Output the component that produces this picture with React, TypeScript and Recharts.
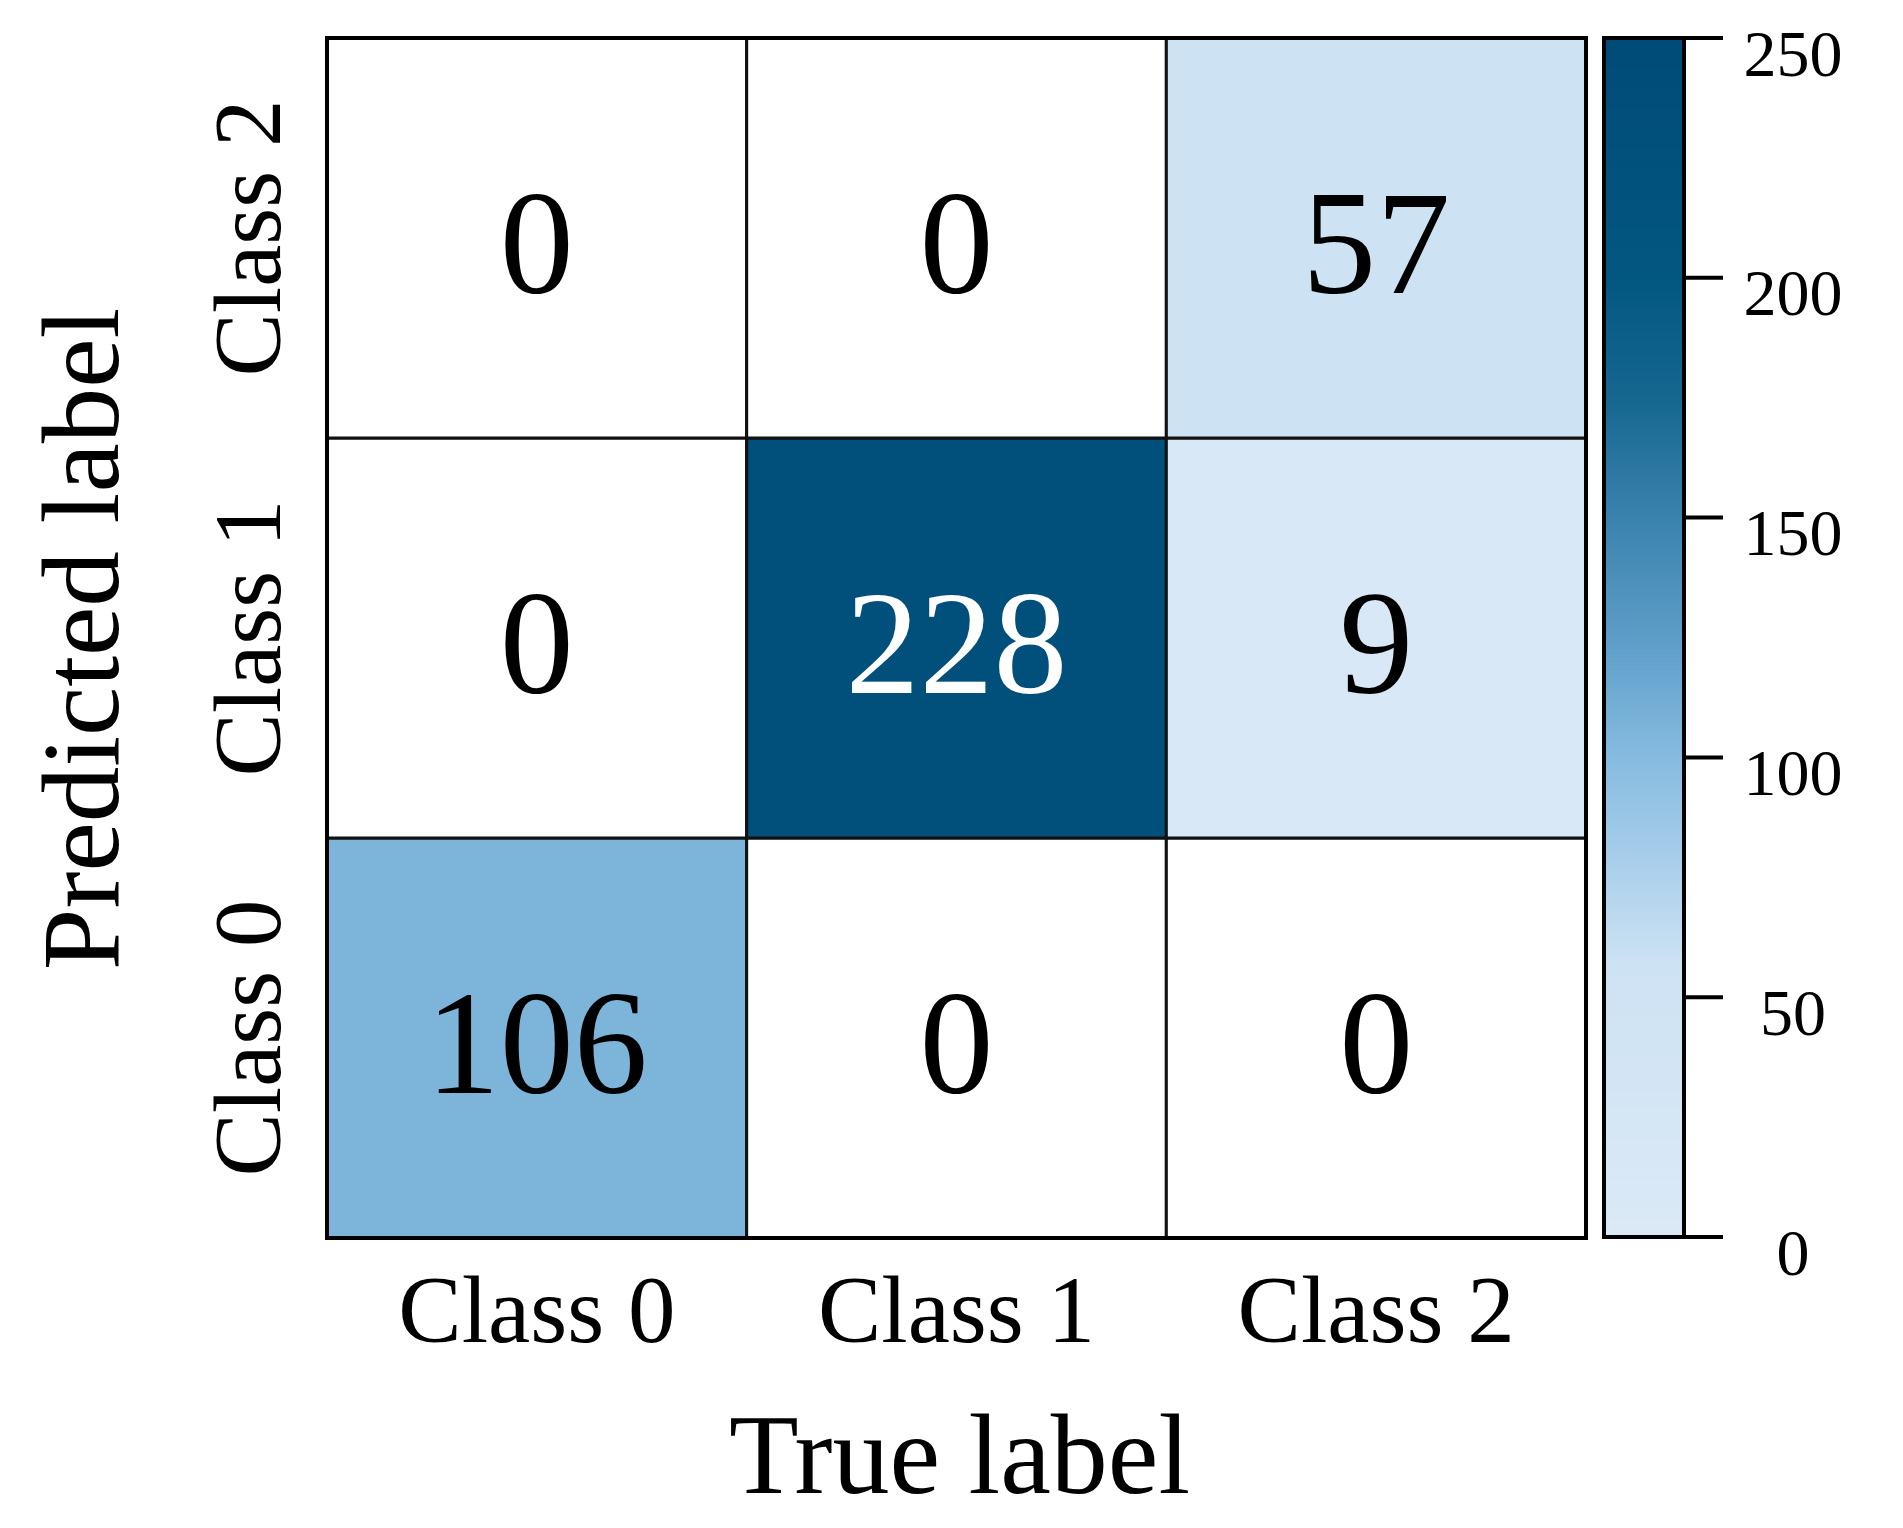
import { ComposedChart, Label, Line, ReferenceArea, Scatter, ScatterChart, XAxis, YAxis } from 'recharts'

// confusion matrix, rows = predicted label, columns = true label
const trueLabels = ['Class 0', 'Class 1', 'Class 2']
const predLabels = ['Class 0', 'Class 1', 'Class 2']
const predClass0 = [106, 0, 0]
const predClass1 = [0, 228, 9]
const predClass2 = [0, 0, 57]
const colorbarTicks = [0, 50, 100, 150, 200, 250]
const colorbarMax = 250

const rows = [predClass0, predClass1, predClass2]

// colormap stops (value -> colour)
const cmap: [number, string][] = [
  [0, '#dbe9f6'],
  [57, '#cde2f3'],
  [80, '#a6cdea'],
  [100, '#86bbe0'],
  [125, '#5c9dc7'],
  [150, '#3a82ae'],
  [175, '#156790'],
  [200, '#025780'],
  [250, '#004b77'],
]

const FONT = '"Liberation Serif", "Times New Roman", serif'

function hexToRgb(h: string) {
  const n = parseInt(h.slice(1), 16)
  return [(n >> 16) & 255, (n >> 8) & 255, n & 255]
}

function colorFor(v: number) {
  for (let i = 1; i < cmap.length; i++) {
    const [v0, c0] = cmap[i - 1]
    const [v1, c1] = cmap[i]
    if (v <= v1) {
      const t = (v - v0) / (v1 - v0)
      const a = hexToRgb(c0)
      const b = hexToRgb(c1)
      const m = a.map((x, k) => Math.round(x + (b[k] - x) * t))
      return `rgb(${m[0]},${m[1]},${m[2]})`
    }
  }
  return cmap[cmap.length - 1][1]
}

const cells = rows.flatMap((r, row) => r.map((value, col) => ({ x: col + 0.5, y: row + 0.5, col, row, value })))

const XTick = (props: any) => {
  const { x, y, payload } = props
  return (
    <text x={x} y={y + 104} textAnchor="middle" fontSize={95} fontFamily={FONT} fill="#000">
      {trueLabels[Math.floor(payload.value)]}
    </text>
  )
}

const YTick = (props: any) => {
  const { x, y, payload } = props
  const bx = x - 47
  return (
    <text x={bx} y={y} textAnchor="middle" fontSize={95} fontFamily={FONT} fill="#000" transform={`rotate(-90, ${bx}, ${y})`}>
      {predLabels[Math.floor(payload.value)]}
    </text>
  )
}

const CbTick = (props: any) => {
  const { x, y, payload } = props
  return (
    <text x={x + 70} y={y + 15} textAnchor="middle" dominantBaseline="central" fontSize={66} fontFamily={FONT} fill="#000">
      {payload.value}
    </text>
  )
}

const ValueText = (props: any) => {
  const { cx, cy, payload } = props
  return (
    <text x={cx} y={cy + 5} textAnchor="middle" dominantBaseline="central" fontSize={148} fontFamily={FONT}
      fill={payload.value > 150 ? '#ffffff' : '#000000'}>
      {payload.value}
    </text>
  )
}

export default function App() {
  const cbData = colorbarTicks.map(v => ({ x: 0.5, v }))
  return (
    <div style={{ position: 'absolute', left: 0, top: 0, width: 1903, height: 1528, background: '#fff' }}>
      <div style={{ position: 'absolute', left: 0, top: 0 }}>
        <ScatterChart width={1903} height={1528} margin={{ top: 38, right: 317, bottom: 0, left: 0 }}>
          <XAxis type="number" dataKey="x" domain={[0, 3]} ticks={[0.5, 1.5, 2.5]} height={290}
            tickSize={0} tickMargin={0} tickLine={false} axisLine={false} tick={<XTick />} interval={0}>
            <Label content={(p: any) => {
              const vb = p.viewBox
              return (
                <text x={vb.x + vb.width / 2 + 3} y={1493} textAnchor="middle" fontSize={114} fontFamily={FONT} fill="#000">
                  True label
                </text>
              )
            }} />
          </XAxis>
          <YAxis type="number" dataKey="y" domain={[0, 3]} ticks={[0.5, 1.5, 2.5]} width={327}
            tickSize={0} tickMargin={0} tickLine={false} axisLine={false} tick={<YTick />} interval={0}>
            <Label content={(p: any) => {
              const vb = p.viewBox
              const cy = vb.y + vb.height / 2 + 1
              return (
                <text x={118} y={cy} textAnchor="middle" fontSize={111} fontFamily={FONT} fill="#000"
                  transform={`rotate(-90, 118, ${cy})`}>
                  Predicted label
                </text>
              )
            }} />
          </YAxis>
          {cells.map(c => (
            <ReferenceArea key={`${c.row}-${c.col}`} x1={c.col} x2={c.col + 1} y1={c.row} y2={c.row + 1}
              fill={c.value === 0 ? '#ffffff' : colorFor(c.value)} fillOpacity={1}
              stroke="#111" strokeWidth={3} strokeOpacity={1} />
          ))}
          <ReferenceArea x1={0} x2={3} y1={0} y2={3} fill="none" stroke="#000" strokeWidth={4} strokeOpacity={1} />
          <Scatter data={cells} shape={<ValueText />} isAnimationActive={false} />
        </ScatterChart>
      </div>
      <div style={{ position: 'absolute', left: 1560, top: 0 }}>
        <ComposedChart width={343} height={1528} data={cbData} margin={{ top: 38, right: 0, bottom: 291, left: 44 }}>
          <defs>
            <linearGradient id="cbar" x1="0" y1="1" x2="0" y2="0">
              {cmap.map(([v, c]) => (
                <stop key={v} offset={`${(v / colorbarMax) * 100}%`} stopColor={c} />
              ))}
            </linearGradient>
          </defs>
          <XAxis type="number" dataKey="x" domain={[0, 1]} hide />
          <YAxis orientation="right" type="number" domain={[0, colorbarMax]} ticks={colorbarTicks} width={219}
            tickSize={39} tickMargin={0} axisLine={false} interval={0}
            tickLine={{ stroke: '#000', strokeWidth: 4 }} tick={<CbTick />} />
          <ReferenceArea x1={0} x2={1} y1={0} y2={colorbarMax} fill="url(#cbar)" fillOpacity={1}
            stroke="#000" strokeWidth={4} strokeOpacity={1} />
          <Line dataKey="v" stroke="none" dot={false} isAnimationActive={false} />
        </ComposedChart>
      </div>
    </div>
  )
}
